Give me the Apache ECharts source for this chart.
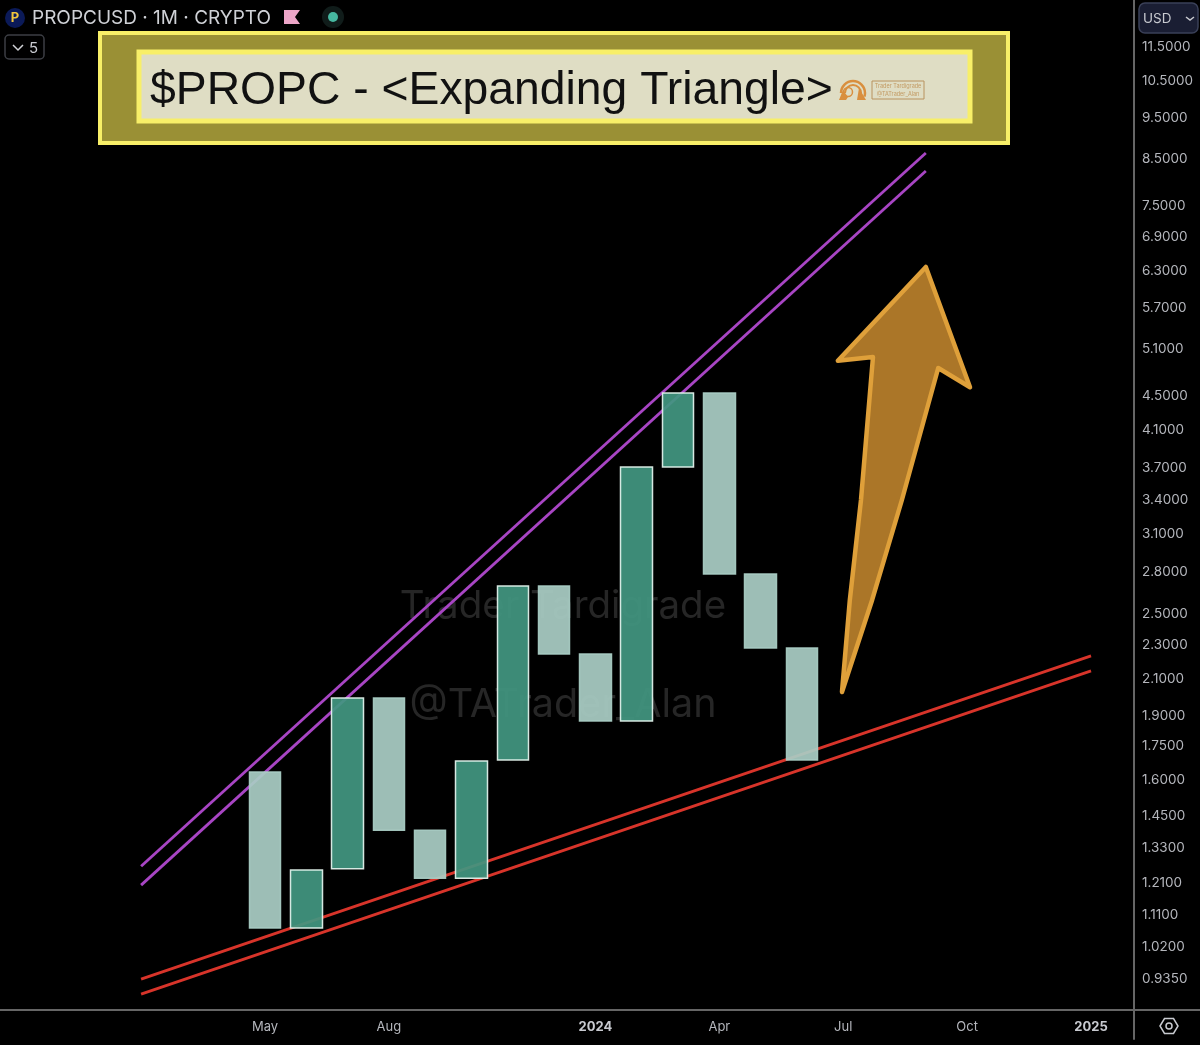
<!DOCTYPE html>
<html>
<head>
<meta charset="utf-8">
<title>PROPCUSD</title>
<style>
html, body { margin: 0; padding: 0; background: #000; }
#main { width: 1200px; height: 1045px; }
</style>
<script src="https://cdn.jsdelivr.net/npm/echarts@6/dist/echarts.min.js"></script>
</head>
<body>
<div id="main"></div>
<script>
'use strict';
// monthly bars, index 0 = May 2023
var months = ['May', 'Jun', 'Jul', 'Aug', 'Sep', 'Oct', 'Nov', 'Dec', '2024', 'Feb', 'Mar', 'Apr', 'May', 'Jun'];
var opens  = [1.633, 1.073, 1.258, 1.993, 1.396, 1.227, 1.686, 2.695, 2.243, 1.873, 3.712, 4.530, 2.783, 2.280];
var closes = [1.073, 1.254, 1.993, 1.396, 1.227, 1.682, 2.695, 2.243, 1.873, 3.712, 4.530, 2.783, 2.280, 1.686];

var priceTicks = [11.5, 10.5, 9.5, 8.5, 7.5, 6.9, 6.3, 5.7, 5.1, 4.5, 4.1, 3.7, 3.4, 3.1, 2.8, 2.5, 2.3, 2.1, 1.9, 1.75, 1.6, 1.45, 1.33, 1.21, 1.11, 1.02, 0.935];
var timeTicks = [0, 3, 8, 11, 14, 17, 20];
var timeLabels = ['May', 'Aug', '2024', 'Apr', 'Jul', 'Oct', '2025'];

// trend lines as [month index, price]
var purpleUpper = [[-3, 1.267], [16, 8.645]];
var purpleLower = [[-3, 1.204], [16, 8.235]];
var redUpper = [[-3, 0.935], [20, 2.232]];
var redLower = [[-3, 0.898], [20, 2.144]];

// hand drawn arrow outline, [month index, price]
var arrowShape = [[16.0, 6.36], [17.07, 4.60], [16.30, 4.845], [15.42, 3.396], [14.70, 2.595], [13.97, 2.025], [14.16, 2.595], [14.43, 3.396], [14.72, 4.99], [13.87, 4.94]];

var FONT = 'Inter, "Noto Sans", sans-serif';
var ORANGE = '#d98f3e';

function trendLine(points, color) {
    return {
        type: 'line',
        data: points,
        symbol: 'none',
        silent: true,
        z: 2,
        lineStyle: { color: color, width: 2.8 }
    };
}

function renderArrow(params, api) {
    var pts = [];
    for (var i = 0; i < arrowShape.length; i++) {
        pts.push(api.coord(arrowShape[i]));
    }
    return {
        type: 'polygon',
        shape: { points: pts },
        style: { fill: '#ab7628', stroke: '#dfa03a', lineWidth: 4.5, lineJoin: 'round' }
    };
}

function text(x, y, str, size, color, extra) {
    var style = { x: x, y: y, text: str, fontSize: size, fill: color, fontFamily: FONT, verticalAlign: 'middle' };
    for (var k in extra) { style[k] = extra[k]; }
    return { type: 'text', z: 20, silent: true, style: style };
}

function rect(x, y, w, h, fill, stroke, lineWidth, r) {
    return {
        type: 'rect', z: 15, silent: true,
        shape: { x: x, y: y, width: w, height: h, r: r || 0 },
        style: { fill: fill, stroke: stroke, lineWidth: lineWidth || 0 }
    };
}

function line(x1, y1, x2, y2, color, w) {
    return {
        type: 'line', z: 20, silent: true,
        shape: { x1: x1, y1: y1, x2: x2, y2: y2 },
        style: { stroke: color, lineWidth: w, lineCap: 'round', lineJoin: 'round' }
    };
}

function arc(cx, cy, r, a, b, w) {
    return {
        type: 'arc', z: 20, silent: true,
        shape: { cx: cx, cy: cy, r: r, startAngle: a, endAngle: b },
        style: { stroke: ORANGE, fill: 'none', lineWidth: w }
    };
}

var watermark1 = text(563, 606, 'Trader Tardigrade', 38.5, '#262626', { align: 'center' });
var watermark2 = text(563, 705, '@TATrader_Alan', 39.5, '#262626', { align: 'center' });
watermark1.z = 1;
watermark2.z = 1;

var chart = echarts.init(document.getElementById('main'));

var option = {
    backgroundColor: '#000',
    animation: false,
    grid: { left: 0, right: 66, top: 0, bottom: 35 },
    xAxis: {
        type: 'value',
        min: -6.416,
        max: 21.04,
        splitLine: { show: false },
        axisLine: { onZero: false, lineStyle: { color: '#666', width: 2 } },
        axisTick: { show: false },
        axisLabel: {
            customValues: timeTicks,
            margin: 11,
            fontFamily: FONT,
            fontSize: 13,
            color: '#b4b6bc',
            formatter: function (v) {
                var label = timeLabels[timeTicks.indexOf(v)];
                return label.length === 4 ? '{b|' + label + '}' : label;
            },
            rich: { b: { fontFamily: FONT, fontSize: 13, fontWeight: 'bold', color: '#c8cad0' } }
        }
    },
    yAxis: {
        type: 'log',
        logBase: 10,
        position: 'right',
        min: 0.8603,
        max: 13.05,
        splitLine: { show: false },
        axisLine: { show: true, onZero: false, lineStyle: { color: '#666', width: 2 } },
        axisTick: { show: false },
        axisLabel: {
            customValues: priceTicks,
            margin: 8,
            padding: [2, 0, 0, 0],
            fontFamily: FONT,
            fontSize: 13.5,
            color: '#b4b6bc',
            formatter: function (v) { return v.toFixed(4); }
        }
    },
    series: [
        trendLine(purpleUpper, '#a845c4'),
        trendLine(purpleLower, '#a845c4'),
        trendLine(redUpper, '#d8342a'),
        trendLine(redLower, '#d8342a'),
        {
            type: 'candlestick',
            barWidth: 32,
            z: 5,
            silent: true,
            itemStyle: {
                color: '#429680',
                borderColor: '#e4f4ee',
                color0: '#a9ccc4',
                borderColor0: '#a9ccc4',
                borderWidth: 1.5,
                opacity: 0.93
            },
            data: months.map(function (m, i) {
                return [i, opens[i], closes[i], Math.min(opens[i], closes[i]), Math.max(opens[i], closes[i])];
            })
        },
        {
            type: 'custom',
            renderItem: renderArrow,
            data: [arrowShape[0]],
            clip: false,
            silent: true,
            z: 6
        }
    ],
    graphic: [
        watermark1,
        watermark2,

        // axis lines run on past the plot
        line(1134, 1010, 1134, 1039, '#666', 2),
        line(1134, 1010, 1200, 1010, '#666', 2),

        // title banner
        rect(100, 33, 908, 110, '#9a9035', '#f8ef68', 4),
        rect(139, 52, 831, 69, '#dfddc4', '#f8ef68', 5),
        text(150, 91, '$PROPC - <Expanding Triangle>', 46.3, '#111', { fontFamily: '"Liberation Sans", Arial, sans-serif' }),

        // little helmet logo and name box
        arc(853, 93, 12, Math.PI, 2.1 * Math.PI, 2.5),
        arc(853, 93, 8, Math.PI, 2.1 * Math.PI, 2),
        arc(848, 92, 4.5, 0, 2 * Math.PI, 1.5),
        { type: 'polygon', z: 20, silent: true, shape: { points: [[839, 100], [843, 90], [848, 97], [846, 100]] }, style: { fill: ORANGE } },
        { type: 'polygon', z: 20, silent: true, shape: { points: [[857, 100], [859, 88], [866, 100]] }, style: { fill: ORANGE } },
        rect(872, 81, 52, 18, 'none', '#b8925f', 1),
        text(898, 86, 'Trader Tardigrade', 5.5, '#c39a62', { align: 'center' }),
        text(898, 94, '@TATrader_Alan', 5.5, '#c39a62', { align: 'center' }),

        // header row
        { type: 'circle', z: 20, silent: true, shape: { cx: 15, cy: 18, r: 10 }, style: { fill: '#0b1a58' } },
        text(15, 18, 'P', 13, '#f2c53d', { align: 'center', fontWeight: 'bold' }),
        text(32, 18, 'PROPCUSD · 1M · CRYPTO', 19, '#cfd1d6'),
        { type: 'polygon', z: 20, silent: true, shape: { points: [[284, 10], [300, 10], [295, 17], [300, 24], [284, 24]] }, style: { fill: '#eda6c8' } },
        { type: 'circle', z: 20, silent: true, shape: { cx: 333, cy: 17, r: 11 }, style: { fill: '#101c1a' } },
        { type: 'circle', z: 20, silent: true, shape: { cx: 333, cy: 17, r: 5 }, style: { fill: '#46b8a0' } },

        // collapse button
        rect(5, 35, 39, 24, 'none', '#3c3e44', 1.5, 4),
        { type: 'polyline', z: 20, silent: true, shape: { points: [[13, 45], [18, 50], [23, 45]] }, style: { stroke: '#d0d2d6', fill: 'none', lineWidth: 1.5 } },
        text(29, 48, '5', 15, '#c8cad0'),

        // currency button
        rect(1139, 3, 59, 30, '#1a1e33', '#3a4058', 1.5, 6),
        text(1143, 19, 'USD', 13.5, '#c8cad0'),
        { type: 'polyline', z: 20, silent: true, shape: { points: [[1186, 17], [1190, 20], [1194, 17]] }, style: { stroke: '#c8cad0', fill: 'none', lineWidth: 1.5 } },

        // settings icon
        { type: 'polygon', z: 20, silent: true, shape: { points: [[1160, 1026], [1164.5, 1018.5], [1173.5, 1018.5], [1178, 1026], [1173.5, 1033.5], [1164.5, 1033.5]] }, style: { stroke: '#c8cad0', fill: 'none', lineWidth: 1.5 } },
        { type: 'circle', z: 20, silent: true, shape: { cx: 1169, cy: 1026, r: 3 }, style: { stroke: '#c8cad0', fill: 'none', lineWidth: 1.5 } }
    ]
};

chart.setOption(option);
</script>
</body>
</html>
